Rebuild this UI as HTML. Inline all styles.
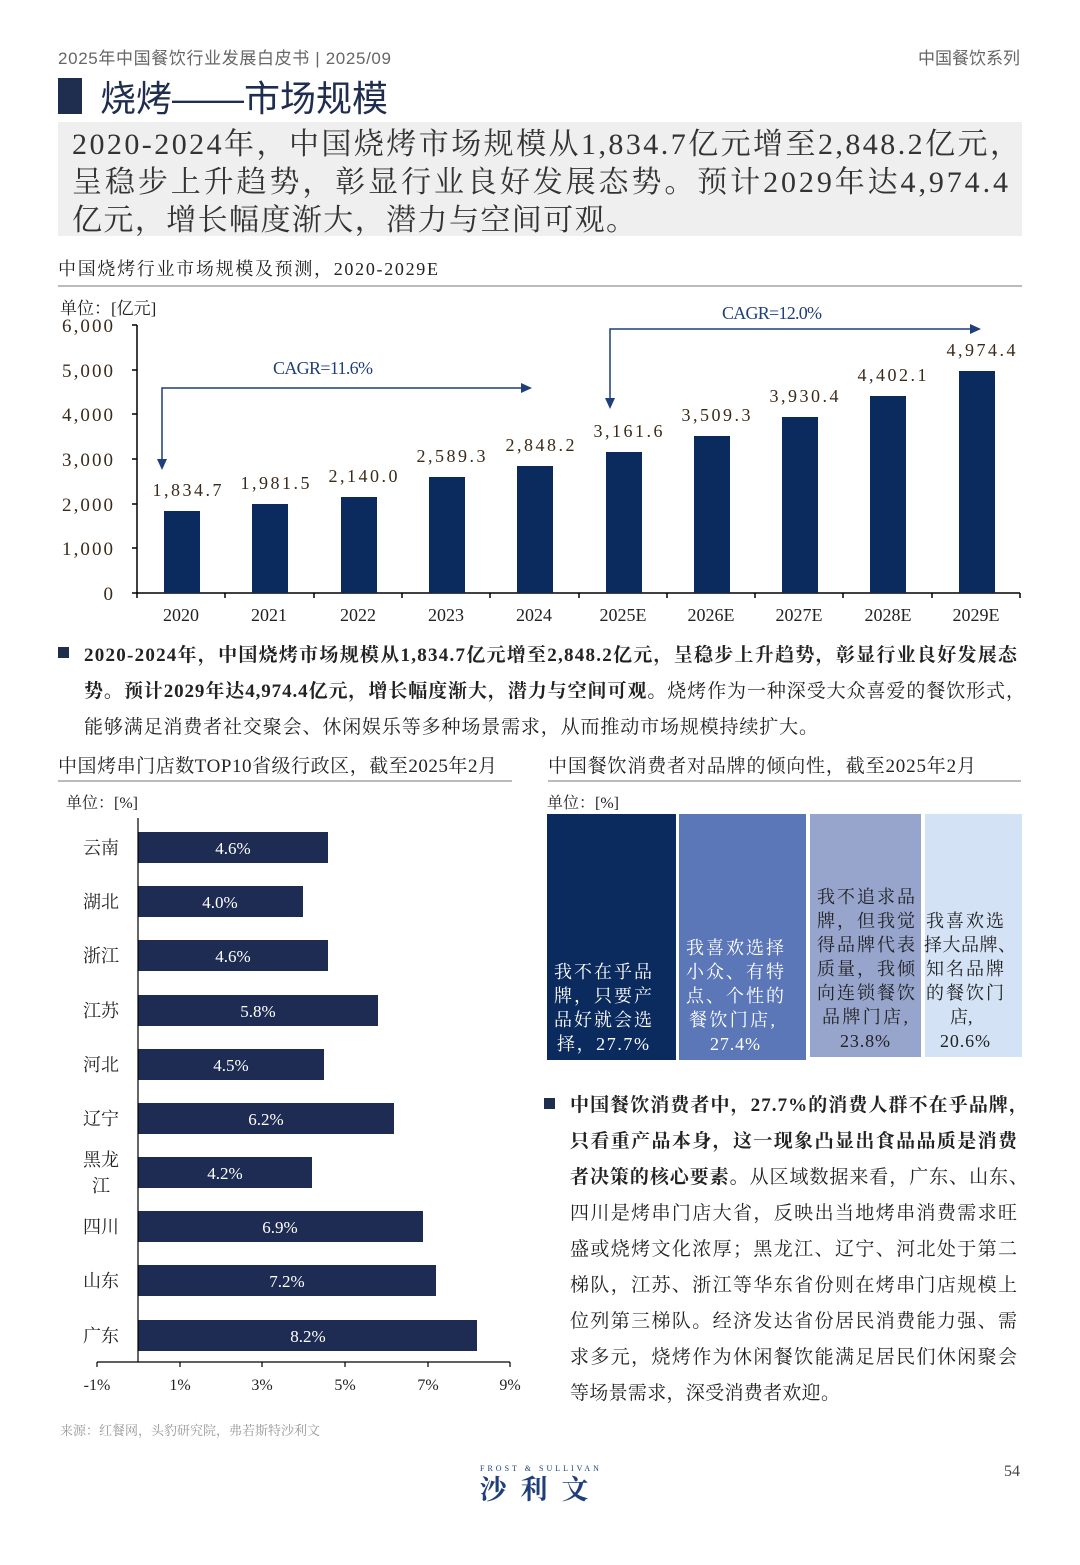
<!DOCTYPE html>
<html><head><meta charset="utf-8"><style>
body{margin:0;background:#fff}
svg text{font-family:"Liberation Serif","Noto Serif CJK SC",serif}
</style></head><body>
<svg width="1080" height="1560" xmlns="http://www.w3.org/2000/svg">
<text x="58" y="64" font-size="17" fill="#666" textLength="333" lengthAdjust="spacing" style="font-family:'Liberation Sans','Noto Sans CJK SC',sans-serif">2025年中国餐饮行业发展白皮书 | 2025/09</text>
<text x="1020" y="64" font-size="17" fill="#666" text-anchor="end" style="font-family:'Liberation Sans','Noto Sans CJK SC',sans-serif">中国餐饮系列</text>
<rect x="58" y="78" width="24" height="36" fill="#1f2d4e"/>
<text x="100" y="111" font-size="36" fill="#1f2d4e" style="font-family:'Liberation Sans','Noto Sans CJK SC',sans-serif">烧烤——市场规模</text>
<rect x="58" y="122" width="964" height="114" fill="#efefef"/>
<g font-size="30" fill="#333">
<text x="72" y="154" textLength="948" lengthAdjust="spacing">2020-2024年，中国烧烤市场规模从1,834.7亿元增至2,848.2亿元，</text>
<text x="72" y="192" textLength="936" lengthAdjust="spacing">呈稳步上升趋势，彰显行业良好发展态势。预计2029年达4,974.4</text>
<text x="72" y="230" textLength="564" lengthAdjust="spacing">亿元，增长幅度渐大，潜力与空间可观。</text>
</g>
<text x="58" y="275" font-size="18" fill="#222" textLength="380" lengthAdjust="spacing">中国烧烤行业市场规模及预测，2020-2029E</text>
<line x1="58" y1="286" x2="1022" y2="286" stroke="#bbb" stroke-width="2"/>
<text x="60" y="314" font-size="17" fill="#222">单位：[亿元]</text>
<g stroke="#000" stroke-width="1.5">
<line x1="137" y1="325" x2="137" y2="598"/>
<line x1="132" y1="593" x2="1020" y2="593"/>
<line x1="132" y1="325" x2="137" y2="325"/><line x1="132" y1="370" x2="137" y2="370"/><line x1="132" y1="414" x2="137" y2="414"/><line x1="132" y1="459" x2="137" y2="459"/><line x1="132" y1="504" x2="137" y2="504"/><line x1="132" y1="548" x2="137" y2="548"/>
<line x1="225" y1="593" x2="225" y2="598"/><line x1="314" y1="593" x2="314" y2="598"/><line x1="402" y1="593" x2="402" y2="598"/><line x1="490" y1="593" x2="490" y2="598"/><line x1="579" y1="593" x2="579" y2="598"/><line x1="667" y1="593" x2="667" y2="598"/><line x1="755" y1="593" x2="755" y2="598"/><line x1="843" y1="593" x2="843" y2="598"/><line x1="932" y1="593" x2="932" y2="598"/><line x1="1020" y1="593" x2="1020" y2="598"/>
</g>
<g font-size="19" fill="#3a2a1a" text-anchor="end">
<text x="113" y="332" textLength="51" lengthAdjust="spacing">6,000</text><text x="113" y="377" textLength="51" lengthAdjust="spacing">5,000</text><text x="113" y="421" textLength="51" lengthAdjust="spacing">4,000</text><text x="113" y="466" textLength="51" lengthAdjust="spacing">3,000</text><text x="113" y="511" textLength="51" lengthAdjust="spacing">2,000</text><text x="113" y="555" textLength="51" lengthAdjust="spacing">1,000</text><text x="113" y="600">0</text>
</g>
<g fill="#0b2a5e">
<rect x="164" y="511" width="36" height="82"/>
<rect x="252" y="504" width="36" height="89"/>
<rect x="341" y="497" width="36" height="96"/>
<rect x="429" y="477" width="36" height="116"/>
<rect x="517" y="466" width="36" height="127"/>
<rect x="606" y="452" width="36" height="141"/>
<rect x="694" y="436" width="36" height="157"/>
<rect x="782" y="417" width="36" height="176"/>
<rect x="870" y="396" width="36" height="197"/>
<rect x="959" y="371" width="36" height="222"/>
</g>
<g font-size="18" fill="#3a2a1a" text-anchor="middle">
<text x="187" y="496" textLength="69" lengthAdjust="spacing">1,834.7</text><text x="275" y="489" textLength="69" lengthAdjust="spacing">1,981.5</text><text x="363" y="482" textLength="69" lengthAdjust="spacing">2,140.0</text><text x="451" y="462" textLength="69" lengthAdjust="spacing">2,589.3</text><text x="540" y="451" textLength="69" lengthAdjust="spacing">2,848.2</text><text x="628" y="437" textLength="69" lengthAdjust="spacing">3,161.6</text><text x="716" y="421" textLength="69" lengthAdjust="spacing">3,509.3</text><text x="804" y="402" textLength="69" lengthAdjust="spacing">3,930.4</text><text x="892" y="381" textLength="69" lengthAdjust="spacing">4,402.1</text><text x="981" y="356" textLength="69" lengthAdjust="spacing">4,974.4</text>
</g>
<g font-size="18" fill="#222" text-anchor="middle">
<text x="181" y="621">2020</text><text x="269" y="621">2021</text><text x="358" y="621">2022</text><text x="446" y="621">2023</text><text x="534" y="621">2024</text><text x="623" y="621">2025E</text><text x="711" y="621">2026E</text><text x="799" y="621">2027E</text><text x="888" y="621">2028E</text><text x="976" y="621">2029E</text>
</g>
<g stroke="#1f3f7a" stroke-width="1.5" fill="none">
<polyline points="162,460 162,388 522,388"/>
<polyline points="610,400 610,329 972,329"/>
</g>
<g fill="#1f3f7a">
<polygon points="157,459 167,459 162,470"/><polygon points="521,383 532,388 521,393"/>
<polygon points="605,398 615,398 610,409"/><polygon points="970,324 981,329 970,334"/>
</g>
<text x="323" y="374" font-size="18" fill="#1f3f7a" text-anchor="middle" textLength="100" lengthAdjust="spacing">CAGR=11.6%</text>
<text x="772" y="319" font-size="18" fill="#1f3f7a" text-anchor="middle" textLength="100" lengthAdjust="spacing">CAGR=12.0%</text>
<rect x="58" y="647" width="11" height="11" fill="#1f2d4e"/>
<g font-size="19" fill="#222">
<text x="84" y="661" font-weight="bold" textLength="933" lengthAdjust="spacing">2020-2024年，中国烧烤市场规模从1,834.7亿元增至2,848.2亿元，呈稳步上升趋势，彰显行业良好发展态</text>
<text x="84" y="697" textLength="941" lengthAdjust="spacing"><tspan font-weight="bold">势。预计2029年达4,974.4亿元，增长幅度渐大，潜力与空间可观。</tspan>烧烤作为一种深受大众喜爱的餐饮形式，</text>
<text x="84" y="733" textLength="734" lengthAdjust="spacing">能够满足消费者社交聚会、休闲娱乐等多种场景需求，从而推动市场规模持续扩大。</text>
</g>
<text x="58" y="772" font-size="19" fill="#222" textLength="439" lengthAdjust="spacing">中国烤串门店数TOP10省级行政区，截至2025年2月</text>
<line x1="58" y1="781" x2="512" y2="781" stroke="#bbb" stroke-width="2"/>
<text x="66" y="808" font-size="16" fill="#222">单位：[%]</text>
<g fill="#1e2b52">
<rect x="138" y="832" width="190" height="31"/>
<rect x="138" y="886" width="165" height="31"/>
<rect x="138" y="940" width="190" height="31"/>
<rect x="138" y="995" width="240" height="31"/>
<rect x="138" y="1049" width="186" height="31"/>
<rect x="138" y="1103" width="256" height="31"/>
<rect x="138" y="1157" width="174" height="31"/>
<rect x="138" y="1211" width="285" height="31"/>
<rect x="138" y="1265" width="298" height="31"/>
<rect x="138" y="1320" width="339" height="31"/>
</g>
<g font-size="17" fill="#fff" text-anchor="middle">
<text x="233" y="854">4.6%</text><text x="220" y="908">4.0%</text><text x="233" y="962">4.6%</text><text x="258" y="1017">5.8%</text><text x="231" y="1071">4.5%</text><text x="266" y="1125">6.2%</text><text x="225" y="1179">4.2%</text><text x="280" y="1233">6.9%</text><text x="287" y="1287">7.2%</text><text x="308" y="1342">8.2%</text>
</g>
<g font-size="18" fill="#222" text-anchor="middle">
<text x="101" y="854">云南</text><text x="101" y="908">湖北</text><text x="101" y="962">浙江</text><text x="101" y="1017">江苏</text><text x="101" y="1071">河北</text><text x="101" y="1125">辽宁</text><text x="101" y="1166">黑龙</text><text x="101" y="1192">江</text><text x="101" y="1233">四川</text><text x="101" y="1287">山东</text><text x="101" y="1342">广东</text>
</g>
<g stroke="#000" stroke-width="1.2">
<line x1="97" y1="1362" x2="510" y2="1362"/>
<line x1="138" y1="818" x2="138" y2="1362"/>
<line x1="97" y1="1362" x2="97" y2="1367"/><line x1="180" y1="1362" x2="180" y2="1367"/><line x1="262" y1="1362" x2="262" y2="1367"/><line x1="345" y1="1362" x2="345" y2="1367"/><line x1="428" y1="1362" x2="428" y2="1367"/><line x1="510" y1="1362" x2="510" y2="1367"/>
</g>
<g font-size="16" fill="#222" text-anchor="middle">
<text x="97" y="1390">-1%</text><text x="180" y="1390">1%</text><text x="262" y="1390">3%</text><text x="345" y="1390">5%</text><text x="428" y="1390">7%</text><text x="510" y="1390">9%</text>
</g>
<text x="548" y="772" font-size="19" fill="#222" textLength="428" lengthAdjust="spacing">中国餐饮消费者对品牌的倾向性，截至2025年2月</text>
<line x1="548" y1="781" x2="1021" y2="781" stroke="#bbb" stroke-width="2"/>
<text x="547" y="808" font-size="16" fill="#222">单位：[%]</text>
<rect x="547" y="814" width="129" height="246" fill="#0b2a5e"/>
<rect x="679" y="814" width="127" height="246" fill="#5b77b8"/>
<rect x="810" y="814" width="111" height="243" fill="#97a4cc"/>
<rect x="925" y="814" width="97" height="243" fill="#d3e2f5"/>
<g font-size="18" fill="#fff">
<text x="554" y="978" textLength="98" lengthAdjust="spacing">我不在乎品</text><text x="554" y="1002" textLength="98" lengthAdjust="spacing">牌，只要产</text><text x="554" y="1026" textLength="98" lengthAdjust="spacing">品好就会选</text><text x="557" y="1050" textLength="92" lengthAdjust="spacing">择，27.7%</text>
<text x="686" y="954" textLength="98" lengthAdjust="spacing">我喜欢选择</text><text x="686" y="978" textLength="98" lengthAdjust="spacing">小众、有特</text><text x="686" y="1002" textLength="98" lengthAdjust="spacing">点、个性的</text><text x="689" y="1026" textLength="86" lengthAdjust="spacing">餐饮门店,</text><text x="710" y="1050" textLength="50" lengthAdjust="spacing">27.4%</text>
</g>
<g font-size="18" fill="#222">
<text x="817" y="903" textLength="98" lengthAdjust="spacing">我不追求品</text><text x="817" y="927" textLength="98" lengthAdjust="spacing">牌，但我觉</text><text x="817" y="951" textLength="98" lengthAdjust="spacing">得品牌代表</text><text x="817" y="975" textLength="98" lengthAdjust="spacing">质量，我倾</text><text x="817" y="999" textLength="98" lengthAdjust="spacing">向连锁餐饮</text><text x="822" y="1023" textLength="86" lengthAdjust="spacing">品牌门店,</text><text x="840" y="1047" textLength="50" lengthAdjust="spacing">23.8%</text>
<text x="926" y="927" textLength="78" lengthAdjust="spacing">我喜欢选</text><text x="924" y="951" textLength="92" lengthAdjust="spacing">择大品牌、</text><text x="926" y="975" textLength="78" lengthAdjust="spacing">知名品牌</text><text x="926" y="999" textLength="78" lengthAdjust="spacing">的餐饮门</text><text x="950" y="1023">店,</text><text x="940" y="1047" textLength="50" lengthAdjust="spacing">20.6%</text>
</g>
<rect x="544" y="1098" width="11" height="11" fill="#1f2d4e"/>
<g font-size="19" fill="#222">
<text x="570" y="1111" font-weight="bold" textLength="458" lengthAdjust="spacing">中国餐饮消费者中，27.7%的消费人群不在乎品牌，</text>
<text x="570" y="1147" font-weight="bold" textLength="447" lengthAdjust="spacing">只看重产品本身，这一现象凸显出食品品质是消费</text>
<text x="570" y="1183" textLength="458" lengthAdjust="spacing"><tspan font-weight="bold">者决策的核心要素。</tspan>从区域数据来看，广东、山东、</text>
<text x="570" y="1219" textLength="447" lengthAdjust="spacing">四川是烤串门店大省，反映出当地烤串消费需求旺</text>
<text x="570" y="1255" textLength="447" lengthAdjust="spacing">盛或烧烤文化浓厚；黑龙江、辽宁、河北处于第二</text>
<text x="570" y="1291" textLength="447" lengthAdjust="spacing">梯队，江苏、浙江等华东省份则在烤串门店规模上</text>
<text x="570" y="1327" textLength="447" lengthAdjust="spacing">位列第三梯队。经济发达省份居民消费能力强、需</text>
<text x="570" y="1363" textLength="447" lengthAdjust="spacing">求多元，烧烤作为休闲餐饮能满足居民们休闲聚会</text>
<text x="570" y="1399" textLength="270" lengthAdjust="spacing">等场景需求，深受消费者欢迎。</text>
</g>
<text x="60" y="1435" font-size="13" fill="#999">来源：红餐网，头豹研究院，弗若斯特沙利文</text>
<text x="541" y="1471" font-size="8" fill="#1f3f7a" text-anchor="middle" letter-spacing="3">FROST &amp; SULLIVAN</text>
<text x="541" y="1499" font-size="27" font-weight="bold" fill="#1f3f7a" text-anchor="middle" letter-spacing="14">沙利文</text>
<text x="1020" y="1476" font-size="16" fill="#444" text-anchor="end">54</text>
</svg>
</body></html>
